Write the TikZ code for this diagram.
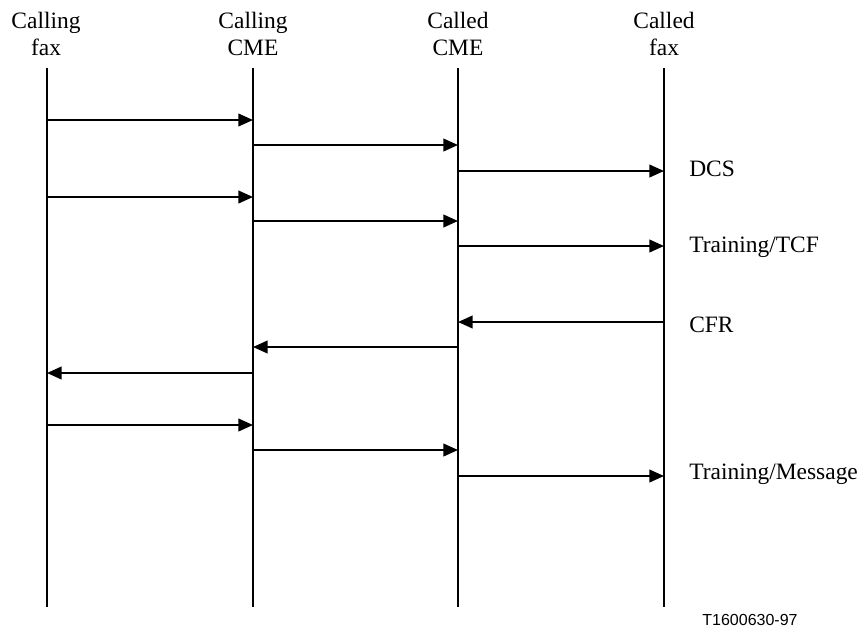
\documentclass[tikz,border=0pt]{standalone}
\usepackage{fontspec}
\setmainfont{Liberation Serif}
\newfontfamily\idfont{Liberation Sans}
\usetikzlibrary{arrows.meta}
\usetikzlibrary{positioning}

\tikzset{
  lifeline/.style={line width=1.5pt},
  msg/.style={line width=1.5pt, -{Triangle[length=11pt, width=9.5pt]}},
  party/.style={align=center, inner sep=0pt, anchor=north, font=\fontsize{17.6}{20}\selectfont},
  msglabel/.style={anchor=base west, inner sep=0pt, font=\fontsize{17.6}{20}\selectfont},
}

\begin{document}
\begin{tikzpicture}[x=0.75pt, y=-0.75pt]
				\useasboundingbox (0,0) rectangle (863,632);
				% parties
				\node[party] (cfax) at (46,12) {Calling\\fax};
				\node[party] (ccme) at (253,12) {Calling\\CME};
				\node[party] (dcme) at (458,12) {Called\\CME};
				\node[party] (dfax) at (664,12) {Called\\fax};
				% lifelines
				\foreach \p/\x in {cf/47, cc/253, dc/458, df/664} {
					\coordinate (\p-top) at (\x,68);
					\coordinate (\p-bot) at (\x,607);
					\draw[lifeline] (\p-top) -- (\p-bot);
				}
				% messages
				\foreach \y/\a/\b in {120/cf/cc, 145/cc/dc, 171/dc/df, 197/cf/cc, 221/cc/dc, 246/dc/df,
					322/df/dc, 347/dc/cc, 373/cc/cf, 425/cf/cc, 450/cc/dc, 476/dc/df}
					\draw[msg] (\a-top |- 0,\y) -- (\b-top |- 0,\y);
				% labels
				\node[msglabel] (dcs) at (689,176) {DCS};
				\node[msglabel] (tcf) at (689,252) {Training/TCF};
				\node[msglabel] (cfr) at (689,332) {CFR};
				\node[msglabel] (tmsg) at (689,479) {Training/Message};
				\node[font=\idfont\fontsize{12}{14}\selectfont, anchor=base, inner sep=0pt] (figid) at (750,625) {T1600630-97};
			\end{tikzpicture}
\end{document}
